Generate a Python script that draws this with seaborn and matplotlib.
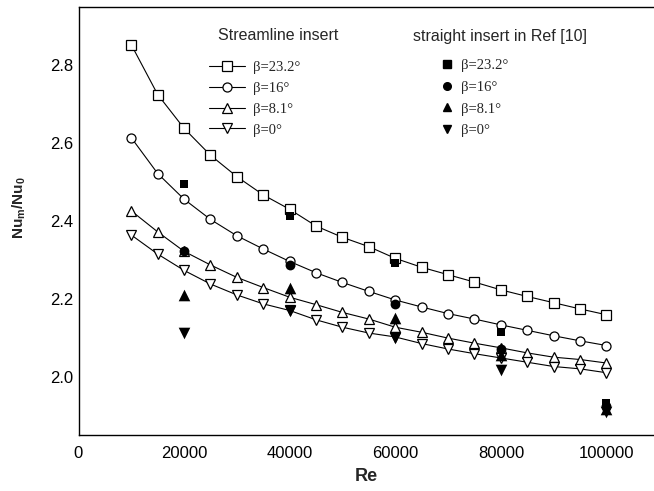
import seaborn as sns
import matplotlib.pyplot as plt
from matplotlib.lines import Line2D
import pandas as pd

## Reynolds numbers for the streamline insert runs
re_stream = [10000, 15000, 20000, 25000, 30000, 35000, 40000, 45000, 50000, 55000,
             60000, 65000, 70000, 75000, 80000, 85000, 90000, 95000, 100000]

## Nu_m/Nu_0 for the streamline insert
nu_232 = [2.853, 2.725, 2.638, 2.569, 2.514, 2.467, 2.430, 2.387, 2.358, 2.334,
          2.304, 2.281, 2.262, 2.243, 2.223, 2.206, 2.190, 2.174, 2.159]
nu_16 = [2.614, 2.522, 2.456, 2.404, 2.362, 2.328, 2.296, 2.267, 2.242, 2.219,
         2.197, 2.179, 2.162, 2.148, 2.133, 2.119, 2.105, 2.092, 2.080]
nu_81 = [2.426, 2.372, 2.322, 2.287, 2.255, 2.229, 2.204, 2.185, 2.165, 2.148,
         2.127, 2.114, 2.099, 2.086, 2.074, 2.061, 2.050, 2.044, 2.035]
nu_0 = [2.364, 2.315, 2.273, 2.238, 2.210, 2.187, 2.170, 2.146, 2.127, 2.112,
        2.102, 2.085, 2.071, 2.059, 2.048, 2.037, 2.026, 2.020, 2.010]

## straight insert data from Ref [10]
re_ref = [20000, 40000, 60000, 80000, 100000]
ref_232 = [2.494, 2.413, 2.292, 2.116, 1.932]
ref_16 = [2.324, 2.287, 2.187, 2.070, 1.925]
ref_81 = [2.210, 2.227, 2.150, 2.055, 1.917]
ref_0 = [2.113, 2.168, 2.100, 2.018, 1.908]

labels = ['β=23.2°', 'β=16°', 'β=8.1°', 'β=0°']
markers = ['s', 'o', '^', 'v']
open_sizes = [6.5, 6.5, 7, 7]
fill_sizes = [40, 50, 70, 70]

sns.set_style('white')
plt.rcParams['font.family'] = ['Liberation Sans', 'DejaVu Sans']
plt.rcParams['mathtext.fontset'] = 'custom'
plt.rcParams['mathtext.bf'] = 'Liberation Sans:bold'
plt.rcParams['mathtext.rm'] = 'Liberation Sans'

fig = plt.figure(figsize=(6.54, 4.91), dpi=100)
ax = fig.add_axes([78.5 / 654, 56 / 491, 1 - 78.5 / 654, 428 / 491])

stream = [nu_232, nu_16, nu_81, nu_0]
refs = [ref_232, ref_16, ref_81, ref_0]

# Streamline insert: open markers joined by lines
for vals, m, ms in zip(stream, markers, open_sizes):
    df = pd.DataFrame({'Re': re_stream, 'Nu': vals})
    sns.lineplot(data=df, x='Re', y='Nu', ax=ax, color='black', linewidth=0.8,
                 marker=m, markersize=ms, markerfacecolor='white',
                 markeredgecolor='black', markeredgewidth=0.9)

# Straight insert from Ref [10]: filled markers
for vals, m, s in zip(refs, markers, fill_sizes):
    df = pd.DataFrame({'Re': re_ref, 'Nu': vals})
    sns.scatterplot(data=df, x='Re', y='Nu', ax=ax, color='black', marker=m,
                    s=s, edgecolor='black', linewidth=0, zorder=4)

ax.set_xlim(0, 109000)
ax.set_ylim(1.85, 2.95)
ax.set_xticks([0, 20000, 40000, 60000, 80000, 100000])
ax.set_yticks([2.0, 2.2, 2.4, 2.6, 2.8])
ax.set_yticklabels(['2.0', '2.2', '2.4', '2.6', '2.8'])
ax.tick_params(length=0, labelsize=12, colors='black')
ax.tick_params(axis='x', pad=8)
ax.tick_params(axis='y', pad=4)
ax.spines['right'].set_visible(False)
for side in ['left', 'top', 'bottom']:
    ax.spines[side].set_color('black')
    ax.spines[side].set_linewidth(1.0)

ax.set_xlabel('Re', fontsize=13, fontweight='bold', labelpad=5)
ax.set_ylabel(r'$\mathbf{Nu_m/Nu_0}$', fontsize=11)
ax.yaxis.set_label_coords(-0.087, 0.53)

serif = {'family': 'Liberation Serif', 'size': 10.5}

# Legend for the streamline insert
h1 = [Line2D([], [], color='black', linewidth=0.8, marker=m, markersize=ms,
             markerfacecolor='white', markeredgecolor='black', markeredgewidth=0.9)
      for m, ms in zip(markers, open_sizes)]
leg1 = fig.legend(h1, labels, loc='upper left', frameon=False, prop=serif,
                  bbox_to_anchor=(209 / 654, 1 - 61 / 491), borderpad=0,
                  borderaxespad=0, handlelength=2.5, handletextpad=0.5,
                  labelspacing=0.52)

# Legend for Ref [10]
h2 = [Line2D([], [], linestyle='none', marker=m, markersize=ms - 1,
             markerfacecolor='black', markeredgecolor='black')
      for m, ms in zip(markers, open_sizes)]
leg2 = fig.legend(h2, labels, loc='upper left', frameon=False, prop=serif,
                  bbox_to_anchor=(440 / 654, 1 - 59 / 491), borderpad=0,
                  borderaxespad=0, handlelength=1.0, handletextpad=0.45,
                  labelspacing=0.58)

fig.text(278 / 654, 1 - 36 / 491, 'Streamline insert', fontsize=11.5,
         ha='center', va='center')
fig.text(500 / 654, 1 - 36 / 491, 'straight insert in Ref [10]', fontsize=11.5,
         ha='center', va='center')

fig.savefig('out.png', dpi=100)
